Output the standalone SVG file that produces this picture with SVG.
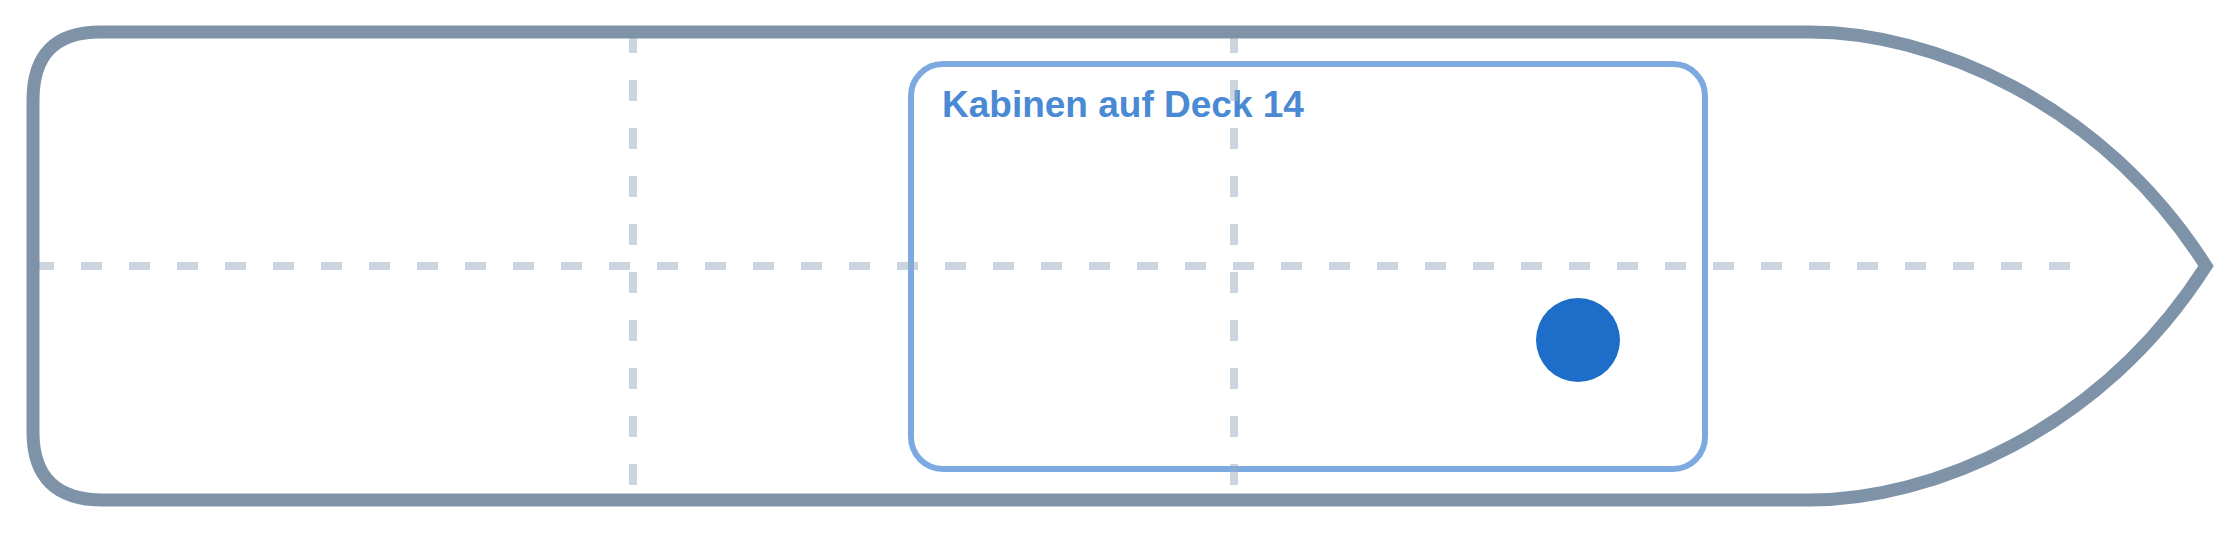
<svg xmlns="http://www.w3.org/2000/svg" width="2240" height="533" viewBox="0 0 2240 533">
  <style>
    .hull { fill: none; stroke: #7f93a8; stroke-width: 13; stroke-linejoin: miter; }
    .grid { fill: none; stroke: #97abc1; stroke-opacity: 0.5; stroke-width: 8; stroke-dasharray: 21 27; }
    .zone { fill: none; stroke: #4a89d4; stroke-opacity: 0.72; stroke-width: 6; }
    .zone-label { font-family: "Liberation Sans", Arial, sans-serif; font-weight: bold; font-size: 37px; fill: #4a89d4; }
    .marker { fill: #1e6dc9; }
  </style>
  <rect x="0" y="0" width="2240" height="533" fill="#ffffff"/>
  <g id="zone-deck14">
    <rect class="zone" x="911" y="64" width="794" height="405" rx="32" ry="32"/>
    <text class="zone-label" x="942" y="117">Kabinen auf Deck 14</text>
  </g>
  <g id="grid-lines">
    <line class="grid" x1="33" y1="266" x2="2090" y2="266"/>
    <line class="grid" x1="633" y1="32" x2="633" y2="500"/>
    <line class="grid" x1="1234" y1="32" x2="1234" y2="500"/>
  </g>
  <g id="hull">
    <path class="hull" d="M 100 32 L 1810 32 C 1930 32 2100 100 2206 266 C 2100 432 1930 500 1810 500 L 103 500 Q 33 500 33 432 L 33 100 Q 33 32 100 32 Z"/>
  </g>
  <g id="position-marker">
    <circle class="marker" cx="1578" cy="340" r="42"/>
  </g>
</svg>
